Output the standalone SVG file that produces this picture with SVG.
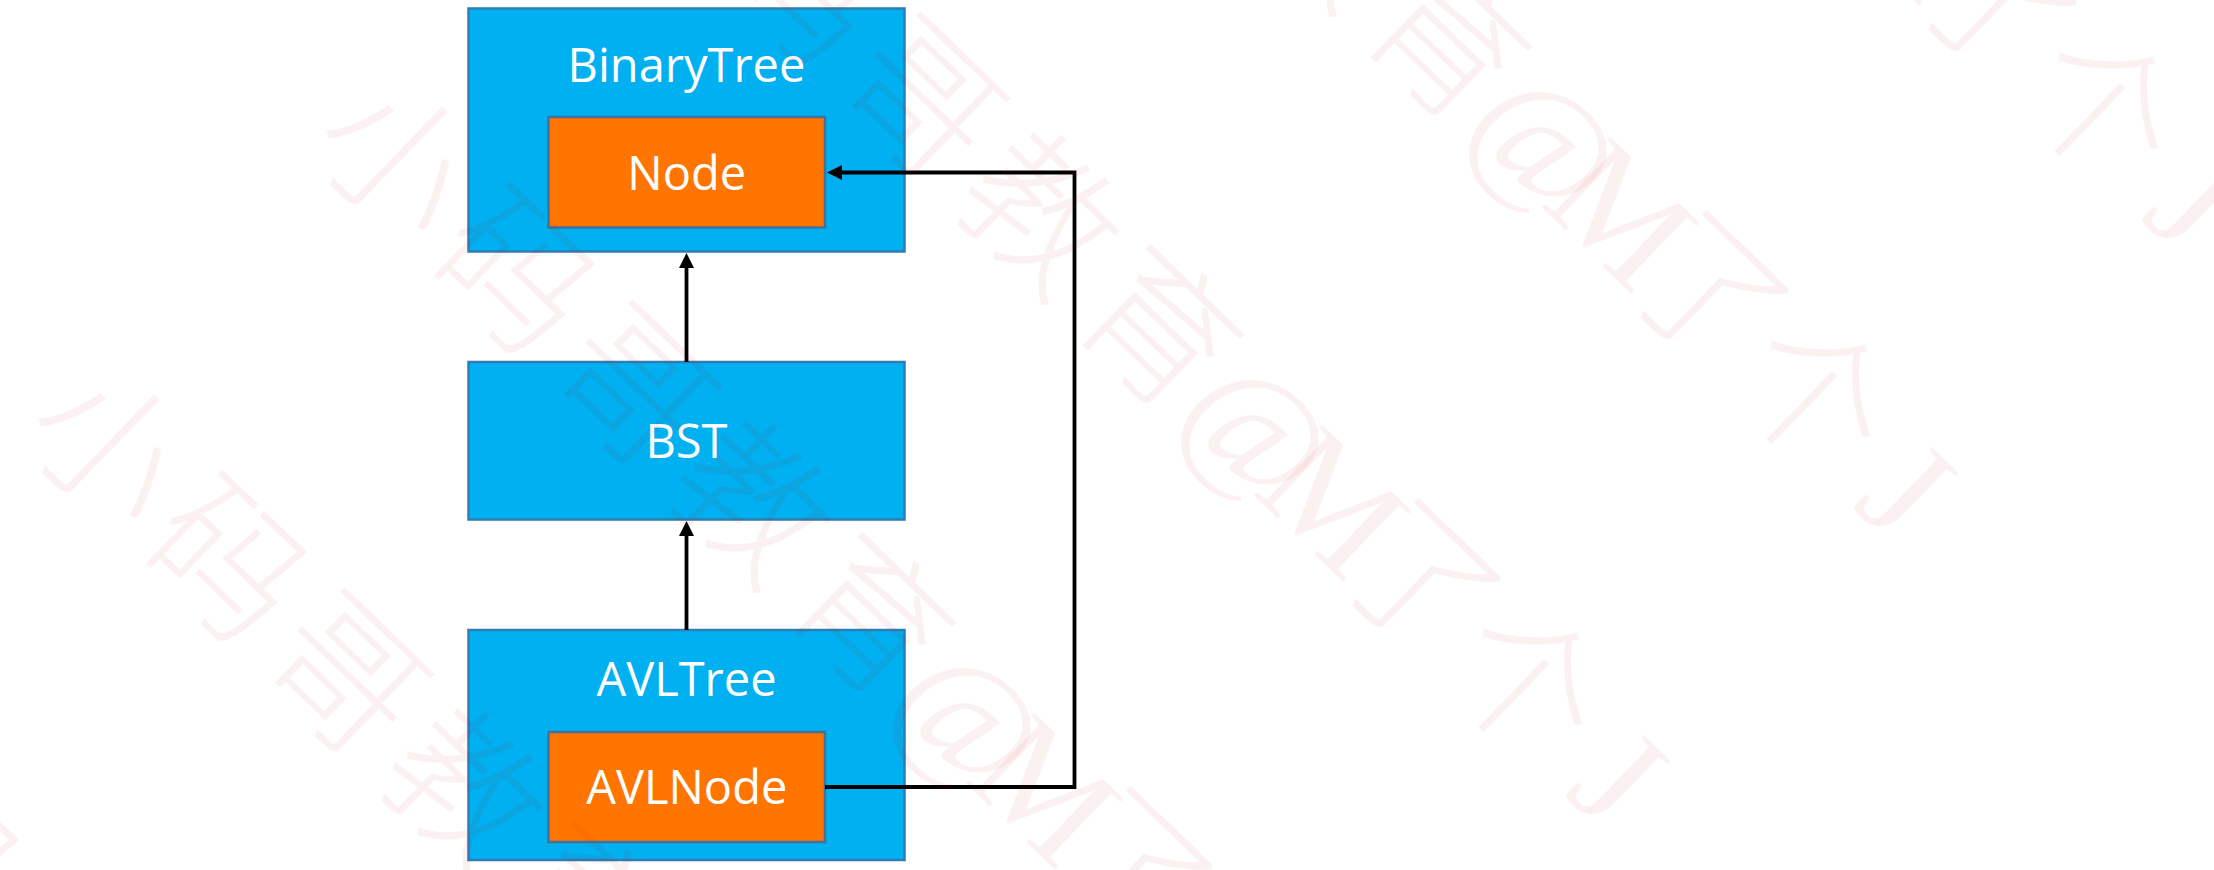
<svg xmlns="http://www.w3.org/2000/svg" width="2214" height="870" viewBox="0 0 2214 870">
  <style>
    .outer { fill: #00B0F0; stroke: #2E7DB5; stroke-width: 2.5; }
    .inner { fill: #FF7500; stroke: #41719C; stroke-width: 2.5; }
    .lbl { font-family: "Open Sans", "Noto Sans", sans-serif; font-size: 47px; fill: #FFFFFF; text-anchor: middle; }
    .conn { fill: none; stroke: #000000; stroke-width: 3.8; }
    .wm { font-family: "Liberation Serif", "Noto Sans CJK SC", serif; font-size: 150px; font-weight: 300; fill: #D00000; fill-opacity: 0.055; }
  </style>
  <defs>
    <marker id="arrow" markerUnits="userSpaceOnUse" markerWidth="15" markerHeight="15" refX="6" refY="7.5" orient="auto">
      <path d="M0,0 L15,7.5 L0,15 z" fill="#000000"/>
    </marker>
  </defs>
  <rect x="0" y="0" width="2214" height="870" fill="#FFFFFF"/>

  <g id="binarytree">
    <rect class="outer" x="468.5" y="8.5" width="436" height="243"/>
    <text class="lbl" x="686.5" y="82">BinaryTree</text>
  </g>
  <g id="node">
    <rect class="inner" x="548.5" y="117" width="276.5" height="110.5"/>
    <text class="lbl" x="686.75" y="190">Node</text>
  </g>
  <g id="bst">
    <rect class="outer" x="468.5" y="362" width="436" height="157.5"/>
    <text class="lbl" x="686.5" y="458">BST</text>
  </g>
  <g id="avltree">
    <rect class="outer" x="468.5" y="630" width="436" height="230"/>
    <text class="lbl" x="686.5" y="696">AVLTree</text>
  </g>
  <g id="avlnode">
    <rect class="inner" x="548.5" y="732" width="276.5" height="110"/>
    <text class="lbl" x="686.75" y="804">AVLNode</text>
  </g>

  <g id="connectors">
    <path class="conn" d="M686.5,362 L686.5,262" marker-end="url(#arrow)"/>
    <path class="conn" d="M686.5,630 L686.5,530" marker-end="url(#arrow)"/>
    <path class="conn" d="M825,787 L1074.5,787 L1074.5,172.5 L836,172.5" marker-end="url(#arrow)"/>
  </g>

  <g id="watermark">
    <text class="wm" transform="translate(-271,721) rotate(44)" x="0 165 330 495 660 807 914 1024 1170 1348" y="0">小码哥教育@M了个J</text>
    <text class="wm" transform="translate(17,433) rotate(44)" x="0 165 330 495 660 807 914 1024 1170 1348" y="0">小码哥教育@M了个J</text>
    <text class="wm" transform="translate(305,145) rotate(44)" x="0 165 330 495 660 807 914 1024 1170 1348" y="0">小码哥教育@M了个J</text>
    <text class="wm" transform="translate(593,-143) rotate(44)" x="0 165 330 495 660 807 914 1024 1170 1348" y="0">小码哥教育@M了个J</text>
    <text class="wm" transform="translate(881,-431) rotate(44)" x="0 165 330 495 660 807 914 1024 1170 1348" y="0">小码哥教育@M了个J</text>
    <text class="wm" transform="translate(1169,-719) rotate(44)" x="0 165 330 495 660 807 914 1024 1170 1348" y="0">小码哥教育@M了个J</text>
  </g>
</svg>
